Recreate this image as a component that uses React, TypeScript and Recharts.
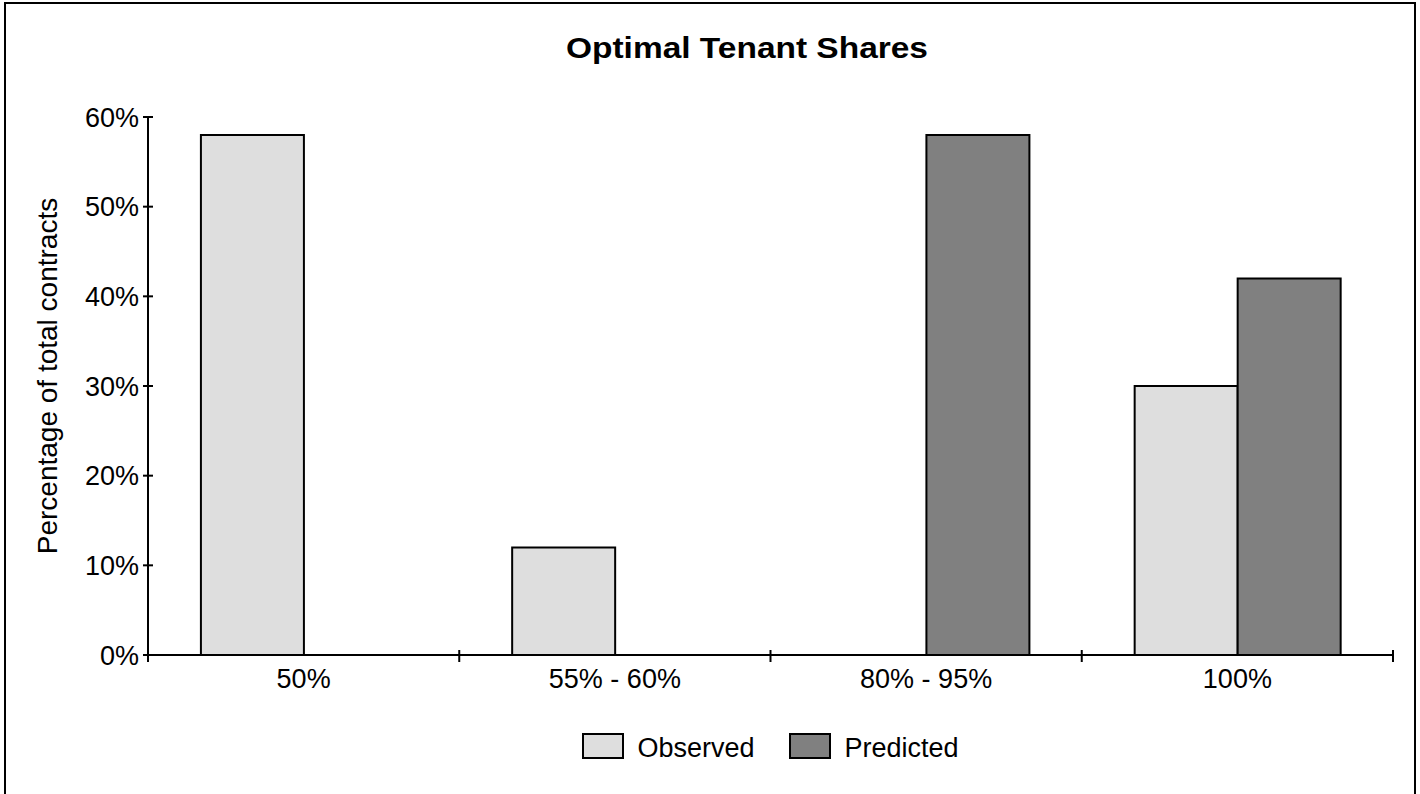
import React from "react";
import { BarChart, Bar, XAxis, YAxis, Legend } from "recharts";

const categories = ["50%", "55% - 60%", "80% - 95%", "100%"];
const observed = [58, 12, 0, 30];
const predicted = [0, 0, 58, 42];
const yTicks = [0, 10, 20, 30, 40, 50, 60];
const seriesNames = ["Observed", "Predicted"];
const seriesColors = ["#dedede", "#808080"];

const data = categories.map((c, i) => ({
  name: c,
  observed: observed[i],
  predicted: predicted[i],
}));

const FONT = "'Liberation Sans', Arial, Helvetica, sans-serif";

const YTick = (props: any) => {
  const { x, y, payload } = props;
  return (
    <g>
      <line x1={x - 5} x2={x + 5} y1={y} y2={y} stroke="#000" strokeWidth={2} />
      <text x={x - 9} y={y} dy="0.36em" textAnchor="end" fontSize={27} fontFamily={FONT} fill="#000">
        {payload.value}%
      </text>
    </g>
  );
};

const XTick = (props: any) => {
  const { x, y, payload, index, visibleTicksCount, width } = props;
  let half = payload && typeof payload.offset === "number" && payload.offset > 0 ? payload.offset : 0;
  if (!half && width && visibleTicksCount) half = width / visibleTicksCount / 2;
  const isLast = index === categories.length - 1;
  return (
    <g>
      <line x1={x - half} x2={x - half} y1={y - 5} y2={y + 7} stroke="#000" strokeWidth={2} />
      {isLast && (
        <line x1={x + half} x2={x + half} y1={y - 5} y2={y + 7} stroke="#000" strokeWidth={2} />
      )}
      <text x={x} y={y + 33} textAnchor="middle" fontSize={27} fontFamily={FONT} fill="#000">
        {payload.value}
      </text>
    </g>
  );
};

const LegendContent = () => (
  <div
    style={{
      display: "flex",
      justifyContent: "center",
      alignItems: "center",
      height: 40,
      fontFamily: FONT,
      fontSize: 27,
      color: "#000",
    }}
  >
    {seriesNames.map((n, i) => (
      <div key={n} style={{ display: "flex", alignItems: "center", marginRight: i === 0 ? 35 : 0 }}>
        <div
          style={{
            width: 42,
            height: 26,
            boxSizing: "border-box",
            border: "2px solid #000",
            background: seriesColors[i],
            marginRight: 13,
          }}
        />
        <span style={{ lineHeight: "27px", paddingTop: 5 }}>{n}</span>
      </div>
    ))}
  </div>
);

export default function App() {
  return (
    <div style={{ position: "absolute", left: 0, top: 0, width: 1420, height: 794, background: "#fff" }}>
      <div
        style={{
          position: "absolute",
          left: 4,
          top: 2,
          width: 1412,
          height: 792,
          boxSizing: "border-box",
          borderTop: "2px solid #000",
          borderLeft: "2px solid #000",
          borderRight: "2px solid #000",
        }}
      />
      <div style={{ position: "absolute", left: 0, top: 0 }}>
        <BarChart
          width={1420}
          height={794}
          data={data}
          margin={{ top: 117, right: 27, left: 0, bottom: 59 }}
          barCategoryGap="17%"
          barGap={0}
        >
          <XAxis
            dataKey="name"
            height={40}
            tickSize={0}
            tickMargin={0}
            tickLine={false}
            axisLine={{ stroke: "#000", strokeWidth: 2 }}
            tick={<XTick />}
            interval={0}
          />
          <YAxis
            width={148}
            domain={[0, 60]}
            ticks={yTicks}
            tickSize={0}
            tickMargin={0}
            tickLine={false}
            axisLine={{ stroke: "#000", strokeWidth: 2 }}
            tick={<YTick />}
            interval={0}
          />
          <Legend
            verticalAlign="bottom"
            content={<LegendContent />}
            wrapperStyle={{ top: 726, bottom: "auto", left: 148, width: 1245, height: 40 }}
          />
          <Bar
            dataKey="observed"
            name={seriesNames[0]}
            fill={seriesColors[0]}
            stroke="#000"
            strokeWidth={2}
            isAnimationActive={false}
          />
          <Bar
            dataKey="predicted"
            name={seriesNames[1]}
            fill={seriesColors[1]}
            stroke="#000"
            strokeWidth={2}
            isAnimationActive={false}
          />
        </BarChart>
      </div>
      <svg style={{ position: "absolute", left: 0, top: 0, pointerEvents: "none" }} width={1420} height={794}>
        <text
          x={747}
          y={58}
          textAnchor="middle"
          fontSize={29}
          fontWeight="bold"
          fontFamily={FONT}
          fill="#000"
          textLength={362}
          lengthAdjust="spacingAndGlyphs"
        >
          Optimal Tenant Shares
        </text>
        <text
          x={57}
          y={376}
          transform="rotate(-90, 57, 376)"
          textAnchor="middle"
          fontSize={28}
          fontFamily={FONT}
          fill="#000"
        >
          Percentage of total contracts
        </text>
      </svg>
    </div>
  );
}
